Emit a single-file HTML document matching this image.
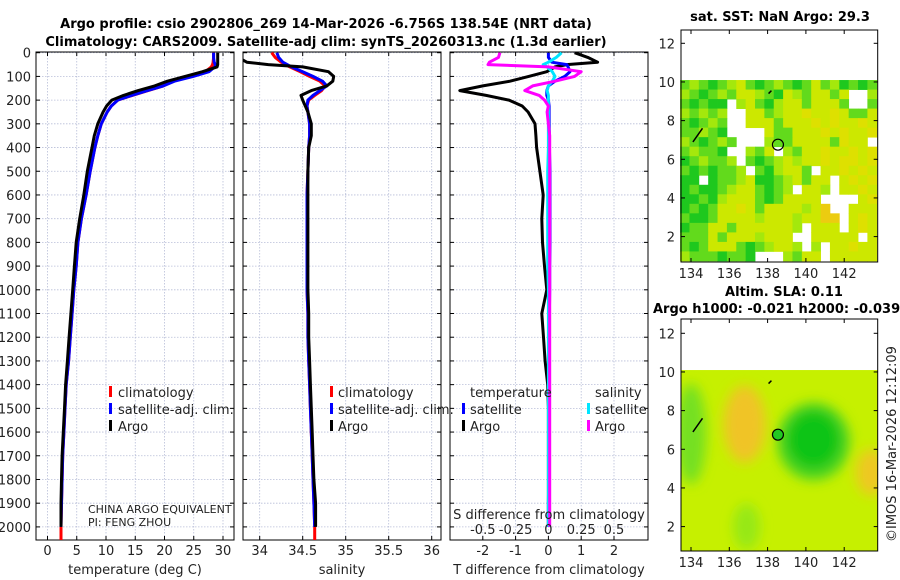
<!DOCTYPE html>
<html><head><meta charset="utf-8">
<style>
html,body{margin:0;padding:0;background:#fff;}
svg{display:block;font-family:"DejaVu Sans","Liberation Sans",sans-serif;}
</style></head>
<body>
<svg id="fig" width="900" height="580" viewBox="0 0 900 580" xmlns="http://www.w3.org/2000/svg">
<defs>
<filter id="blur" x="-50%" y="-50%" width="200%" height="200%"><feGaussianBlur stdDeviation="6"/></filter>
<clipPath id="cp1"><rect x="36" y="52" width="198" height="488"/></clipPath>
<clipPath id="cp2"><rect x="243" y="52" width="198" height="488"/></clipPath>
<clipPath id="cp3"><rect x="450" y="52" width="198" height="488"/></clipPath>
<clipPath id="cpm2"><rect x="681" y="319" width="197" height="232"/></clipPath>
</defs>
<text x="326" y="28" text-anchor="middle" font-size="13" font-weight="bold">Argo profile: csio 2902806_269 14-Mar-2026 -6.756S 138.54E (NRT data)</text>
<text x="326" y="46" text-anchor="middle" font-size="13" font-weight="bold">Climatology: CARS2009. Satellite-adj clim: synTS_20260313.nc (1.3d earlier)</text>
<text x="780" y="21" text-anchor="middle" font-size="13" font-weight="bold">sat. SST: NaN Argo: 29.3</text>
<text x="784" y="296" text-anchor="middle" font-size="13" font-weight="bold">Altim. SLA: 0.11</text>
<text x="653" y="313" font-size="13" font-weight="bold">Argo h1000: -0.021 h2000: -0.039</text>
<text transform="translate(896,542) rotate(-90)" font-size="13" fill="#222">©IMOS 16-Mar-2026 12:12:09</text>
<g id="plots"></g>
</svg>
<script>
// ---- profile data ----
const depths = [0,20,40,50,60,80,100,120,140,160,180,200,225,250,300,350,400,500,600,700,800,900,1000,1100,1200,1300,1400,1500,1600,1700,1800,1900,2000];
const climDepths = [0,20,40,50,60,80,100,120,140,160,180,200,225,250,300,350,400,500,600,700,800,900,1000,1100,1200,1300,1400,1500,1600,1700,1800,1900,2000,2100];
const climT = [28.4,28.4,28.3,28.2,28.0,27.0,24.4,21.5,19.8,17.2,14.5,12.0,10.9,10.2,9.2,8.6,8.1,7.3,6.6,5.8,5.2,4.9,4.5,4.2,3.9,3.6,3.2,3.0,2.8,2.6,2.5,2.4,2.3,2.3];
const satT = [28.4,28.4,28.5,28.7,28.6,27.6,24.9,21.7,19.8,17.1,14.4,12.0,10.9,10.2,9.2,8.6,8.1,7.3,6.6,5.8,5.2,4.9,4.5,4.2,3.9,3.6,3.2,3.0,2.8,2.6,2.5,2.4,2.3];
const argoT = [29.1,29.1,29.1,29.1,29.0,26.5,23.5,20.5,18.3,15.5,13.0,11.0,10.1,9.5,8.6,8.0,7.6,6.8,6.2,5.5,4.9,4.6,4.3,4.0,3.7,3.4,3.1,2.9,2.7,2.5,2.4,2.3,2.3];
const climS = [34.14,34.18,34.25,34.30,34.35,34.47,34.58,34.70,34.76,34.72,34.64,34.57,34.55,34.56,34.58,34.58,34.57,34.56,34.55,34.55,34.55,34.55,34.55,34.56,34.56,34.57,34.58,34.59,34.60,34.61,34.62,34.63,34.64,34.64];
const satS = [34.2,34.22,34.27,34.32,34.37,34.5,34.62,34.73,34.78,34.70,34.62,34.56,34.55,34.56,34.58,34.58,34.57,34.56,34.55,34.55,34.55,34.55,34.55,34.56,34.56,34.57,34.58,34.59,34.60,34.61,34.62,34.63,34.64];
const argoS = [33.7,33.75,33.85,34.1,34.5,34.8,34.86,34.85,34.78,34.6,34.48,34.5,34.53,34.56,34.6,34.6,34.57,34.56,34.56,34.56,34.56,34.56,34.56,34.57,34.57,34.58,34.59,34.60,34.61,34.62,34.63,34.65,34.65];
const dTargo = [0.8,1.2,1.5,0.56,0.2,-0.05,-0.6,-1.17,-2.0,-2.7,-1.9,-1.2,-0.8,-0.62,-0.41,-0.38,-0.36,-0.26,-0.16,-0.2,-0.18,-0.12,-0.05,-0.2,-0.15,-0.1,-0.02,0,0,0,0,0,0];
const dTsat = [0,0,0.1,0.56,0.6,0.66,0.5,0.2,0,-0.05,-0.05,0,0.02,0.02,0.02,0.03,0.03,0.05,0.05,0.05,0.05,0.04,0.04,0.03,0.03,0.02,0.02,0.02,0.01,0.01,0.01,0,0];
const dSsat = [0.1,0.06,0,-0.04,-0.01,0.03,0.05,0.03,0,-0.01,0,0,0,0,0,0,0,-0.005,-0.005,-0.005,-0.005,-0.005,0,0,0,0,0,0,0,0,0,0,0];
const dSargo = [-0.37,-0.38,-0.45,-0.46,0,0.25,0.2,0.05,-0.12,-0.18,-0.07,-0.03,0,-0.01,0,0.01,0.01,0.01,0.01,0.01,0.01,0.01,0.01,0.01,0.01,0.01,0.01,0.01,0.01,0.01,0.01,0.01,0.01];
const depthTicks = [0,100,200,300,400,500,600,700,800,900,1000,1100,1200,1300,1400,1500,1600,1700,1800,1900,2000];
const tempTicks = [0,5,10,15,20,25,30];
const salTicks = [34,34.5,35,35.5,36];
const salTickLabels = ["34","34.5","35","35.5","36"];
const dTTicks = [-2,-1,0,1,2];
const dSTickLabels = ["-0.5","-0.25","0","0.25","0.5"];
const dSTicks = [-0.5,-0.25,0,0.25,0.5];
// ---- map data ----
const sstRows = [
"GlGgGlyGgGlGgGyGlgGgG",
"lGgGlGyylGgylGyyGy..l",
"GgGgg.lyGglyyGyyyG..G",
"lGlGl..yyGlyyoyyoyGGy",
"GgGlG..yyyGyyyoyoyyoy",
"GGlGg....yGGyyyoyoyyo",
"lGgGlG...lGGyyyyGoyy.",
"GlGGg..lGy.lGyyoyyoyo",
"gGlGGl.GgGlylyyoyooyo",
"GgGgGGl.GglyyG.yyoyoy",
"gg.gGGlyggGlyGyy.yoyo",
"gGggGlyyGgGl.yyl.yyoy",
"ggGglyyyGgGyyyy....yo",
"gGgGyyoyGyyyylyO..yyy",
"GggGyyyylyyylyyOO.yoy",
"gGGyyGyyyyyyl.yyy.yoy",
"GGGyGyyylyyy..yyyyy.y",
"GgGyyyGgGlyyl.l.yyoyy",
"lGGGgGGg...lGyy.yyyyy"];
const sstLonMin = 133.43, sstLonMax = 143.7, sstLatMax = 10.1, sstLatMin = 0.74;
const lonTicks = [134,136,138,140,142];
const latTicks = [2,4,6,8,10,12];
const argoLon = 138.54, argoLat = 6.756;
// SLA anomaly blobs
const slaBlobLon = [136.8,140.4,134.0,143.4,136.9,140.4];
const slaBlobLat = [7.3,6.4,6.8,4.8,2.0,6.5];
const slaBlobRLon = [1.1,1.9,0.8,0.8,0.7,1.4];
const slaBlobRLat = [2.0,2.0,2.6,1.2,1.2,1.5];
const slaBlobColor = ["#f0c428","#4cd420","#74e020","#eec820","#96e818","#0cc418"];

const NS = "http://www.w3.org/2000/svg";
const root = document.getElementById("plots");
function mk(tag, attrs, parent){const e=document.createElementNS(NS,tag);for(const k in attrs)e.setAttribute(k,attrs[k]);(parent||root).appendChild(e);return e;}

const yD = d => 52.7 + d*0.2371;
const xT = t => 47.5 + t*5.85;
const xS = s => 259.7 + (s-34)*86;
const xDT = v => 548.4 + v*32.8;
const xDS = v => 548.4 + v*131.2;

function panel(x0, name, xticks, xfun, labels){
  const g = mk("g",{});
  
  
  xticks.forEach((t,i)=>{
    const x=xfun(t);
    const l=mk("line",{x1:x,x2:x,y1:52,y2:540,stroke:"#b8bed8","stroke-width":0.8,"stroke-dasharray":"1.5,1.5"},g);
    
    
    mk("line",{x1:x,x2:x,y1:52,y2:56,stroke:"#000"},g);
    mk("line",{x1:x,x2:x,y1:540,y2:536,stroke:"#000"},g);
    if(labels){
      const tx=mk("text",{x:x,y:555,"text-anchor":"middle","font-size":13,fill:"#222"},g);
      tx.textContent=labels[i];
      
      
    }
  });
  depthTicks.forEach(d=>{
    const y=yD(d);
    const l=mk("line",{x1:x0,x2:x0+198,y1:y,y2:y,stroke:"#b8bed8","stroke-width":0.8,"stroke-dasharray":"1.5,1.5"},g);
    
    
    mk("line",{x1:x0,x2:x0+4,y1:y,y2:y,stroke:"#000"},g);
    mk("line",{x1:x0+198,x2:x0+194,y1:y,y2:y,stroke:"#000"},g);
  });
  const fr=mk("rect",{x:x0,y:52,width:198,height:488,fill:"none",stroke:"#000","stroke-width":1},g);
  
  
  return g;
}
function line(xs, ds, xfun, color, clip, name){
  let p="";
  xs.forEach((v,i)=>{ if(v===null) return; p+=(p?"L":"M")+xfun(v).toFixed(1)+","+yD(ds[i]).toFixed(1); });
  const e=mk("path",{d:p,fill:"none",stroke:color,"stroke-width":3,"stroke-linejoin":"round","clip-path":"url(#"+clip+")"});
  
  
}
function txt(x,y,s,name,opts){
  const e=mk("text",Object.assign({x:x,y:y,"font-size":13,fill:"#222"},opts||{}));
  e.textContent=s;
  
  
  return e;
}
function legMark(x,y,color,name){
  const e=mk("rect",{x:x,y:y-11,width:3,height:11,fill:color});
  
  
}

// Panel 1
panel(36,"temperature-panel",tempTicks,xT,tempTicks.map(String));
depthTicks.forEach(d=>{ txt(31,yD(d)+5,String(d),"y-tick-label",{"text-anchor":"end"}); });
line(climT,climDepths,xT,"#ff0000","cp1","temp-climatology-line");
line(satT,depths,xT,"#0000ff","cp1","temp-satellite-line");
line(argoT,depths,xT,"#000000","cp1","temp-argo-line");
txt(135,574,"temperature (deg C)","temperature-axis-title",{"text-anchor":"middle"});
legMark(109,397,"#ff0000","legend-climatology-marker"); txt(118,397,"climatology","legend-climatology");
legMark(109,414,"#0000ff","legend-satellite-marker"); txt(118,414,"satellite-adj. clim.","legend-satellite");
legMark(109,431,"#000","legend-argo-marker"); txt(118,431,"Argo","legend-argo");
txt(88,513,"CHINA ARGO EQUIVALENT","float-owner-label",{"font-size":11});
txt(88,526,"PI: FENG ZHOU","pi-label",{"font-size":11});

// Panel 2
panel(243,"salinity-panel",salTicks,xS,salTickLabels);
line(climS,climDepths,xS,"#ff0000","cp2","sal-climatology-line");
line(satS,depths,xS,"#0000ff","cp2","sal-satellite-line");
line(argoS,depths,xS,"#000000","cp2","sal-argo-line");
txt(342,574,"salinity","salinity-axis-title",{"text-anchor":"middle"});
legMark(330,397,"#ff0000","legend2-climatology-marker"); txt(338,397,"climatology","legend2-climatology");
legMark(330,414,"#0000ff","legend2-satellite-marker"); txt(338,414,"satellite-adj. clim.","legend2-satellite");
legMark(330,431,"#000","legend2-argo-marker"); txt(338,431,"Argo","legend2-argo");

// Panel 3
panel(450,"difference-panel",dTTicks,xDT,dTTicks.map(String));
line(dTargo,depths,xDT,"#000000","cp3","tdiff-argo-line");
line(dTsat,depths,xDT,"#0000ff","cp3","tdiff-satellite-line");
line(dSsat,depths,xDS,"#00e5ff","cp3","sdiff-satellite-line");
line(dSargo,depths,xDS,"#ff00ff","cp3","sdiff-argo-line");
txt(549,574,"T difference from climatology","tdiff-axis-title",{"text-anchor":"middle"});
txt(549,519,"S difference from climatology","sdiff-axis-title",{"text-anchor":"middle"});
dSTicks.forEach((v,i)=>{ txt(xDS(v),534,dSTickLabels[i],"sdiff-tick-label",{"text-anchor":"middle"}); });
txt(470,397,"temperature","legend3-temperature-header");
txt(595,397,"salinity","legend3-salinity-header");
legMark(462,414,"#0000ff","legend3-tsat-marker"); txt(470,414,"satellite","legend3-tsat");
legMark(462,431,"#000","legend3-targo-marker"); txt(470,431,"Argo","legend3-targo");
legMark(587,414,"#00e5ff","legend3-ssat-marker"); txt(595,414,"satellite","legend3-ssat");
legMark(587,431,"#ff00ff","legend3-sargo-marker"); txt(595,431,"Argo","legend3-sargo");

// Maps
const mx0=681, mx1=877.7;
const mLon = lon => 691 + (lon-134)*19.15;
const m1Lat = lat => 43.3 + (12-lat)*19.33;
const m2Lat = lat => 333.3 + (12-lat)*19.33;
function mapAxes(top,bottom,latf,name){
  const g=mk("g",{});
  
  
  mk("rect",{x:mx0,y:top,width:mx1-mx0,height:bottom-top,fill:"none",stroke:"#000"},g);
  lonTicks.forEach(l=>{const x=mLon(l);
    mk("line",{x1:x,x2:x,y1:bottom,y2:bottom-4,stroke:"#000"},g);
    mk("line",{x1:x,x2:x,y1:top,y2:top+4,stroke:"#000"},g);
    const t=txt(x,bottom+16,String(l),"lon-tick-label",{"text-anchor":"middle"}); g.appendChild(t);});
  latTicks.forEach(l=>{const y=latf(l);
    mk("line",{x1:mx0,x2:mx0+4,y1:y,y2:y,stroke:"#000"},g);
    mk("line",{x1:mx1,x2:mx1-4,y1:y,y2:y,stroke:"#000"},g);
    const t=txt(mx0-6,y+5,String(l),"lat-tick-label",{"text-anchor":"end"}); g.appendChild(t);});
}
// SST map cells
const sstColors = {g:"#1ec81e",G:"#62da1c",l:"#a4e80c",y:"#cce800",o:"#dee000",O:"#eccc10"};
const nR=sstRows.length, nC=sstRows[0].length;
const cw=(sstLonMax-sstLonMin)/nC, ch=(sstLatMax-sstLatMin)/nR;
sstRows.forEach((row,r)=>{ for(let c=0;c<nC;c++){ const k=row[c]; if(k===".") continue;
  const x=mLon(sstLonMin+c*cw), y=m1Lat(sstLatMax-r*ch);
  const e=mk("rect",{x:x.toFixed(2),y:y.toFixed(2),width:(cw*19.15+0.4).toFixed(2),height:(ch*19.33+0.4).toFixed(2),fill:sstColors[k]});
  
  
}});
mapAxes(30,262,m1Lat,"sst-map-axes");
const c1=mk("circle",{cx:mLon(argoLon),cy:m1Lat(argoLat),r:5.5,fill:"none",stroke:"#000","stroke-width":1.2});


mk("path",{d:"M"+mLon(134.1)+","+m1Lat(6.9)+"L"+mLon(134.6)+","+m1Lat(7.6)+"M"+mLon(138.05)+","+m1Lat(9.4)+"L"+mLon(138.2)+","+m1Lat(9.55),stroke:"#000","stroke-width":1.5,fill:"none"});

// SLA map
const slaG=mk("g",{"clip-path":"url(#cpm2)"});


mk("rect",{x:mx0,y:m2Lat(10.1),width:mx1-mx0,height:551-m2Lat(10.1),fill:"#c6f000"},slaG);
const blobG=mk("g",{filter:"url(#blur)"},slaG);
slaBlobLon.forEach((lon,i)=>{
  const e=mk("ellipse",{cx:mLon(lon),cy:m2Lat(slaBlobLat[i]),rx:slaBlobRLon[i]*19.15,ry:slaBlobRLat[i]*19.33,fill:slaBlobColor[i]},blobG);
  
  
});
mk("rect",{x:mx0,y:319,width:mx1-mx0,height:m2Lat(10.1)-319,fill:"#fff"},slaG);
mapAxes(319,551,m2Lat,"sla-map-axes");
const c2=mk("circle",{cx:mLon(argoLon),cy:m2Lat(argoLat),r:5.5,fill:"#22c822",stroke:"#000","stroke-width":1.2});


mk("path",{d:"M"+mLon(134.1)+","+m2Lat(6.9)+"L"+mLon(134.6)+","+m2Lat(7.6)+"M"+mLon(138.05)+","+m2Lat(9.4)+"L"+mLon(138.2)+","+m2Lat(9.55),stroke:"#000","stroke-width":1.5,fill:"none"});
</script>
</body></html>
